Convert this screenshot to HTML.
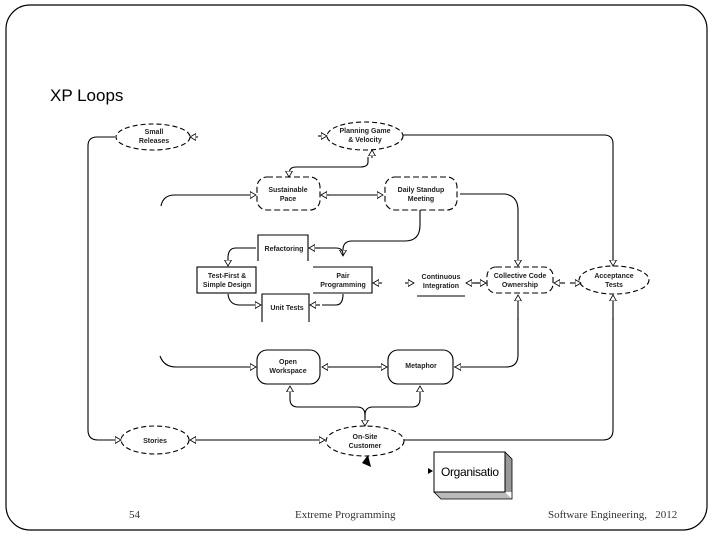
<!DOCTYPE html>
<html><head><meta charset="utf-8"><style>
html,body{margin:0;padding:0;background:#fff;}
svg{display:block;}
</style></head><body>
<svg width="717" height="538" viewBox="0 0 717 538" xmlns="http://www.w3.org/2000/svg" font-family="Liberation Sans, Arial, sans-serif">
<defs>
<marker id="a" markerWidth="8" markerHeight="8" refX="6" refY="4" orient="auto" markerUnits="userSpaceOnUse">
<path d="M0,0.5 L6,4 L0,7.5 Z" fill="#fff" stroke="#000" stroke-width="0.8"/></marker>
</defs>
<rect x="6" y="5" width="701" height="525" rx="24" fill="none" stroke="#000" stroke-width="1.2"/>
<text x="50" y="101" font-size="17">XP Loops</text>

<g fill="none" stroke="#000" stroke-width="1.1">
<ellipse cx="153" cy="137" rx="37" ry="13" stroke-dasharray="5,3"/>
<ellipse cx="365" cy="136" rx="38" ry="14" stroke-dasharray="5,3"/>
<rect x="257" y="177" width="63" height="33" rx="10" stroke-dasharray="6,3"/>
<rect x="385" y="177" width="72" height="33" rx="10" stroke-dasharray="6,3"/>
<path d="M258,261 V235 H308 V261"/>
<rect x="197" y="267" width="59" height="26"/>
<path d="M313,267 H372 V293 H313"/>
<path d="M262,322 V294 H309 V322"/>
<line x1="417" y1="296" x2="465" y2="296"/>
<rect x="487" y="267" width="66" height="26" rx="9" stroke-dasharray="6,3"/>
<ellipse cx="614" cy="280" rx="35" ry="14" stroke-dasharray="5,3"/>
<rect x="257" y="350" width="63" height="34" rx="10"/>
<rect x="388" y="350" width="65" height="34" rx="10"/>
<ellipse cx="155" cy="440" rx="34" ry="14" stroke-dasharray="5,3"/>
<ellipse cx="365" cy="441" rx="39" ry="15" stroke-dasharray="5,3"/>

<path d="M115,137 H97 Q88,137 88,146 V430 Q88,440 98,440 H121" marker-end="url(#a)"/>
<path d="M198,137 H190" marker-end="url(#a)"/>
<path d="M403,135 H604 Q613,135 613,144 V266" marker-end="url(#a)"/>
<path d="M318,136 H327" marker-end="url(#a)"/>
<path d="M368,157 V162 Q368,167 360,167 H296 Q289,167 289,174 V177" marker-end="url(#a)"/>
<path d="M372,158 V150" marker-end="url(#a)"/>
<path d="M161,206 Q163,195 175,195 H256" marker-end="url(#a)"/>
<path d="M330,195 H383" marker-end="url(#a)"/>
<path d="M330,195 H321" marker-end="url(#a)"/>
<path d="M460,194 H505 Q518,196 518,210 V266" marker-end="url(#a)"/>
<path d="M420,210 V225 Q420,241 405,241 H352 Q343,241 343,250 V256" marker-end="url(#a)"/>
<path d="M320,248 H336 Q343,248 343,255"/>
<path d="M256,248 H236 Q228,248 228,258 V266" marker-end="url(#a)"/>
<path d="M320,248 H309" marker-end="url(#a)"/>
<path d="M228,294 Q229,305 240,305 H261" marker-end="url(#a)"/>
<path d="M322,305 H336 Q343,305 343,294"/>
<path d="M320,305 H310" marker-end="url(#a)"/>
<path d="M405,283 H414" marker-end="url(#a)"/>
<path d="M382,283 H373" marker-end="url(#a)"/>
<path d="M475,283 H486" marker-end="url(#a)"/>
<path d="M480,283 H466" marker-end="url(#a)"/>
<path d="M570,283 H581" marker-end="url(#a)"/>
<path d="M565,283 H554" marker-end="url(#a)"/>
<path d="M518,320 V295" marker-end="url(#a)"/>
<path d="M613,320 V295" marker-end="url(#a)"/>
<path d="M613,318 V430 Q613,440 603,440 H404"/>
<path d="M518,318 V355 Q518,367 506,367 H454"/>
<path d="M462,367 H455" marker-end="url(#a)"/>
<path d="M378,367 H387" marker-end="url(#a)"/>
<path d="M330,367 H322" marker-end="url(#a)"/>
<path d="M330,367 H378"/>
<path d="M160,356 Q164,367 176,367 H256" marker-end="url(#a)"/>
<path d="M365,418 V415 Q365,407 357,407 H298 Q290,407 290,399 V386" marker-end="url(#a)"/>
<path d="M365,415 Q365,407 373,407 H412 Q420,407 420,399 V386" marker-end="url(#a)"/>
<path d="M365,414 V426" marker-end="url(#a)"/>
<path d="M190,440 H325" marker-end="url(#a)"/>
<path d="M197,440 H190" marker-end="url(#a)"/>
</g>
<path d="M362,463 L368,455 L371,467 Z" fill="#000"/>

<polygon points="505,452 512,459 512,492 505,492" fill="#999"/>
<polygon points="434,492 505,492 512,499 441,499" fill="#bbb"/>
<rect x="434" y="452" width="71" height="40" fill="#fff" stroke="#000" stroke-width="1"/>
<path d="M505,452 L512,459 L512,499 L441,499 L434,492" fill="none" stroke="#000" stroke-width="0.8"/>
<path d="M428,468 L433,471 L428,474 Z" fill="#000"/>
<text x="441" y="476" font-size="12" textLength="58">Organisatio</text>

<g font-size="7" font-weight="bold" text-anchor="middle" fill="#222">
<text x="154" y="134">Small</text><text x="154" y="143">Releases</text>
<text x="365" y="133">Planning Game</text><text x="365" y="142">&amp; Velocity</text>
<text x="288" y="192">Sustainable</text><text x="288" y="201">Pace</text>
<text x="421" y="192">Daily Standup</text><text x="421" y="201">Meeting</text>
<text x="284" y="251">Refactoring</text>
<text x="227" y="278">Test-First &amp;</text><text x="227" y="287">Simple Design</text>
<text x="343" y="278">Pair</text><text x="343" y="287">Programming</text>
<text x="287" y="310">Unit Tests</text>
<text x="441" y="279">Continuous</text><text x="441" y="288">Integration</text>
<text x="520" y="278">Collective Code</text><text x="520" y="287">Ownership</text>
<text x="614" y="278">Acceptance</text><text x="614" y="287">Tests</text>
<text x="288" y="364">Open</text><text x="288" y="373">Workspace</text>
<text x="421" y="368">Metaphor</text>
<text x="155" y="443">Stories</text>
<text x="365" y="439">On-Site</text><text x="365" y="448">Customer</text>
</g>
<g font-family="Liberation Serif, serif" font-size="11" fill="#333">
<text x="129" y="518">54</text>
<text x="295" y="518">Extreme Programming</text>
<text x="548" y="518">Software Engineering,&#160;&#160;&#160;2012</text>
</g>
</svg>
</body></html>
